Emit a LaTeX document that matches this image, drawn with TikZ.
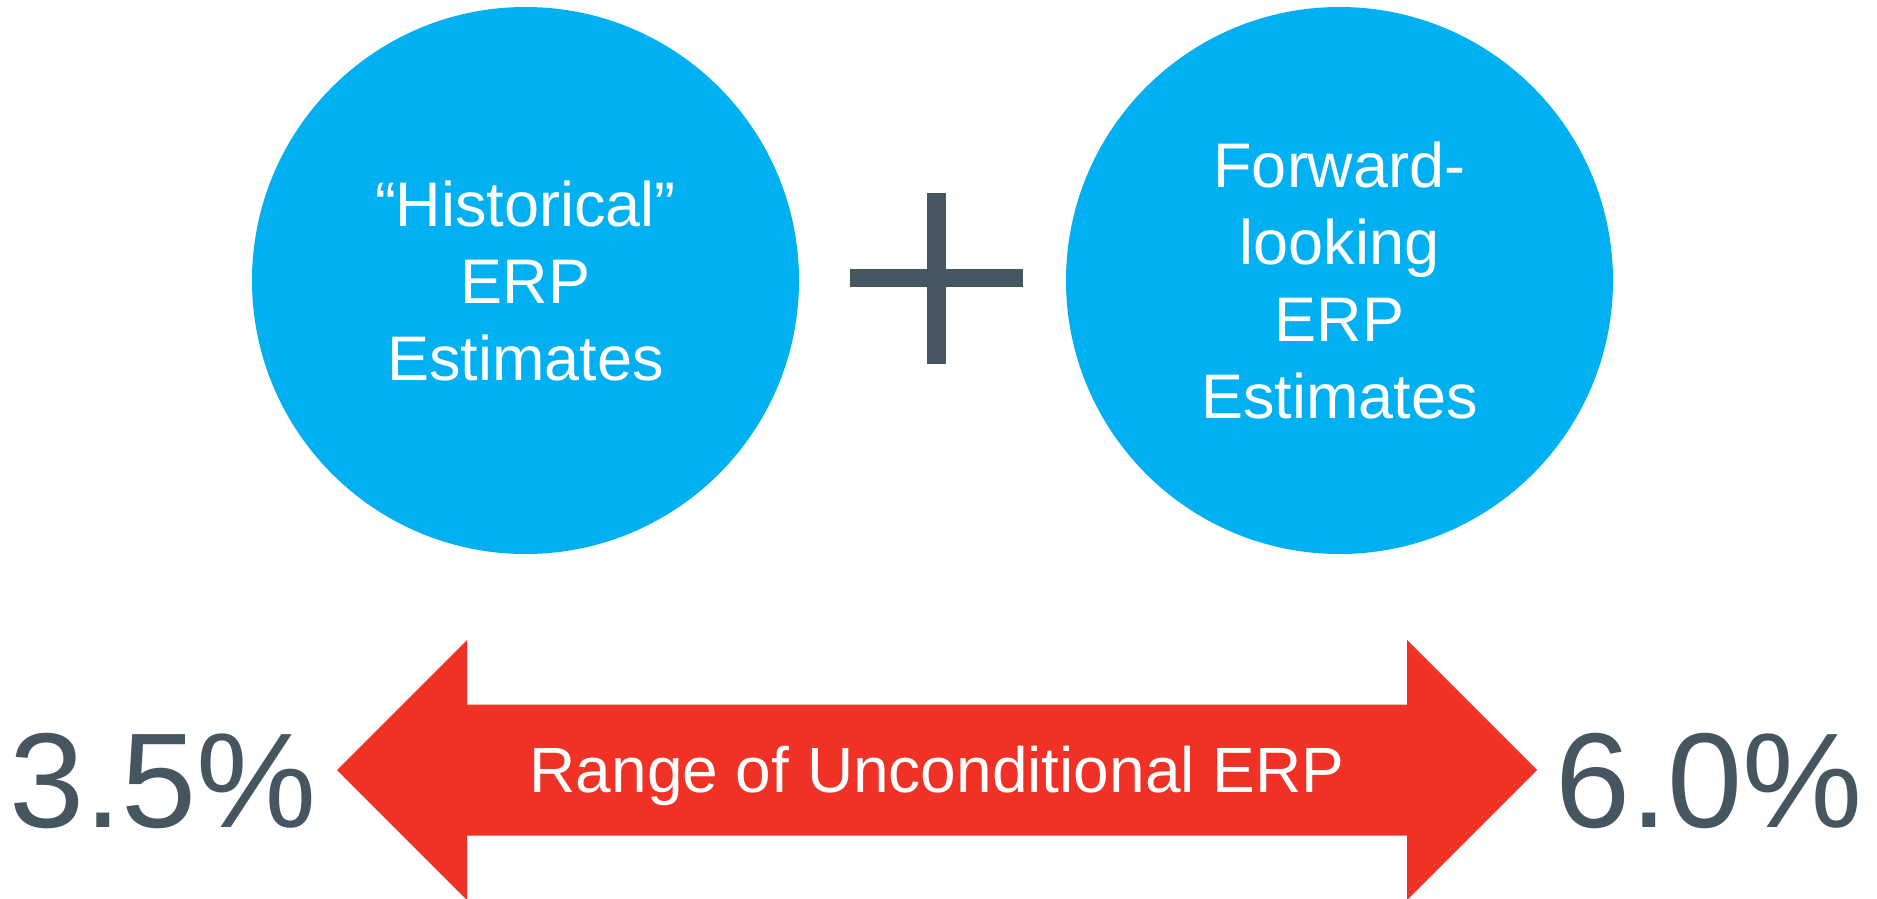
\documentclass[tikz,border=0pt]{standalone}
\usepackage{fontspec}
\setmainfont{Liberation Sans}
\usepackage{tikz}

\definecolor{erpblue}{RGB}{0,176,240}
\definecolor{erpred}{RGB}{239,50,37}
\definecolor{erpgray}{RGB}{70,86,97}

\begin{document}
\begin{tikzpicture}
      [ x = 1pt, y = -1pt
      , estimate/.style =
        { circle, fill = erpblue, minimum size = 547pt, inner sep = 0pt,
          text = white, align = center, font = \fontsize{63}{77}\selectfont }
      , bar/.style =
        { fill = erpgray }
      , percent/.style =
        { text = erpgray, inner sep = 0pt, anchor = base west,
          font = \fontsize{135}{140}\selectfont }
      , rangearrow/.style =
        { fill = erpred }
      , rangelabel/.style =
        { text = white, inner sep = 0pt, anchor = base,
          font = \fontsize{64}{70}\selectfont }
      ]
      \useasboundingbox (0, 0) rectangle (1877, 899);
      \node [estimate] (hist) at (525.5, 280.5) {“Historical”\\ERP\\Estimates};
      \node [estimate] (fwd) at (1339.5, 280.5) {Forward-\\looking\\ERP\\Estimates};
      \fill [bar] (850, 269) rectangle (1023, 287);
      \fill [bar] (927, 193) rectangle (946, 364);
      \fill [rangearrow] (337, 770) -- (467, 640) -- (467, 704.5) -- (1407, 704.5)
        -- (1407, 640) -- (1537, 770) -- (1407, 900) -- (1407, 835.5)
        -- (467, 835.5) -- (467, 900) -- cycle;
      \node [rangelabel] (range) at (937, 792) {Range of Unconditional ERP};
      \node [percent] (low) at (9, 827) {3.5\%};
      \node [percent] (high) at (1555, 827) {6.0\%};
    \end{tikzpicture}
\end{document}
